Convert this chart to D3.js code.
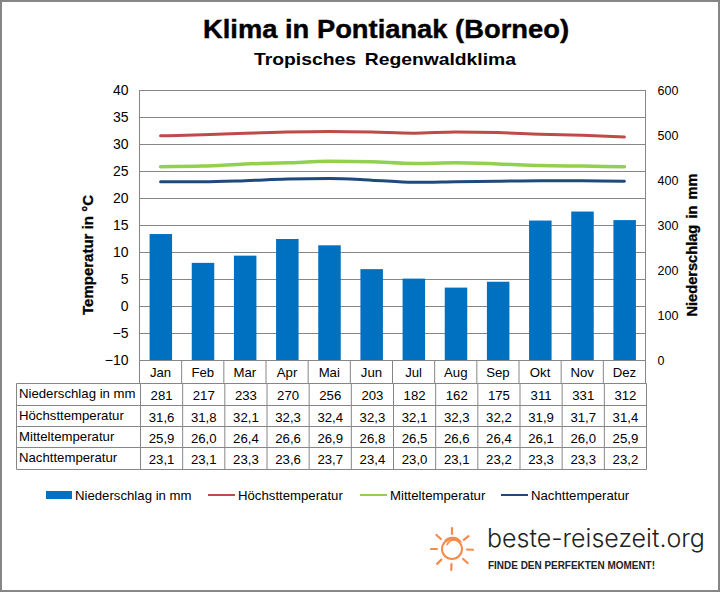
<!DOCTYPE html>
<html>
<head>
<meta charset="utf-8">
<script src="https://cdn.jsdelivr.net/npm/d3@7"></script>
<style>
  body { margin: 0; background: #fff; }
  text { font-family: "Liberation Sans", Arial, sans-serif; fill: #000; }
</style>
</head>
<body>
<svg id="chart" width="720" height="592"></svg>
<script>
const months = ["Jan", "Feb", "Mar", "Apr", "Mai", "Jun", "Jul", "Aug", "Sep", "Okt", "Nov", "Dez"];
const rain = [281, 217, 233, 270, 256, 203, 182, 162, 175, 311, 331, 312];
const high = [31.6, 31.8, 32.1, 32.3, 32.4, 32.3, 32.1, 32.3, 32.2, 31.9, 31.7, 31.4];
const mean = [25.9, 26.0, 26.4, 26.6, 26.9, 26.8, 26.5, 26.6, 26.4, 26.1, 26.0, 25.9];
const low = [23.1, 23.1, 23.3, 23.6, 23.7, 23.4, 23.0, 23.1, 23.2, 23.3, 23.3, 23.2];
const tempTicks = [-10, -5, 0, 5, 10, 15, 20, 25, 30, 35, 40];
const rainTicks = [0, 100, 200, 300, 400, 500, 600];

const gray = "#868686";
const svg = d3.select("#chart");

svg.append("rect").attr("x", 1).attr("y", 1).attr("width", 718).attr("height", 590)
    .attr("fill", "#fff").attr("stroke", gray).attr("stroke-width", 2);

// titles are stretched wide in the original
svg.append("text").attr("x", 386).attr("y", 38).attr("text-anchor", "middle")
    .attr("font-size", 25).attr("font-weight", "bold").attr("stroke", "#000").attr("stroke-width", 0.4)
    .attr("textLength", 366).attr("lengthAdjust", "spacingAndGlyphs")
    .text("Klima in Pontianak (Borneo)");
svg.append("text").attr("x", 385).attr("y", 65).attr("text-anchor", "middle")
    .attr("font-size", 17).attr("font-weight", "bold").attr("word-spacing", 3)
    .attr("textLength", 262).attr("lengthAdjust", "spacingAndGlyphs")
    .text("Tropisches Regenwaldklima");

const x = d3.scaleBand().domain(months).range([139.5, 645.5]);
const yTemp = d3.scaleLinear().domain([-10, 40]).range([360.5, 90.5]);
const yRain = d3.scaleLinear().domain([0, 600]).range([360.5, 90.5]);

// gridlines
svg.append("g").selectAll("line").data(tempTicks).join("line")
    .attr("x1", 139.5).attr("x2", 645.5)
    .attr("y1", d => yTemp(d)).attr("y2", d => yTemp(d))
    .attr("stroke", gray);

// bars
svg.append("g").selectAll("rect").data(rain).join("rect")
    .attr("x", (d, i) => x(months[i]) + x.bandwidth() / 2 - 11)
    .attr("y", d => yRain(d))
    .attr("width", 22.5)
    .attr("height", d => yRain(0) - yRain(d))
    .attr("fill", "#0070c0");

svg.append("rect").attr("x", 139.5).attr("y", 90.5).attr("width", 506).attr("height", 270)
    .attr("fill", "none").attr("stroke", gray);

// left and right axis labels, no tick marks in the original
const axisLeft = d3.axisLeft(yTemp).tickValues(tempTicks).tickSize(0).tickPadding(11);
const gLeft = svg.append("g").attr("transform", "translate(139.5,0)").call(axisLeft);
gLeft.select(".domain").remove();
gLeft.selectAll("text").attr("font-size", 14).attr("font-family", "Liberation Sans");

const axisRight = d3.axisRight(yRain).tickValues(rainTicks).tickSize(0).tickPadding(12);
const gRight = svg.append("g").attr("transform", "translate(645.5,0)").call(axisRight);
gRight.select(".domain").remove();
gRight.selectAll("text").attr("font-size", 12.5).attr("font-family", "Liberation Sans");

svg.append("text").attr("transform", "translate(93,255) rotate(-90)").attr("text-anchor", "middle")
    .attr("font-size", 14).attr("font-weight", "bold").attr("stroke", "#000").attr("stroke-width", 0.3)
    .attr("textLength", 120).attr("lengthAdjust", "spacingAndGlyphs").text("Temperatur in °C");
svg.append("text").attr("transform", "translate(697,245) rotate(-90)").attr("text-anchor", "middle")
    .attr("font-size", 14).attr("font-weight", "bold").attr("stroke", "#000").attr("stroke-width", 0.3)
    .attr("word-spacing", 2)
    .attr("textLength", 143).attr("lengthAdjust", "spacingAndGlyphs").text("Niederschlag in mm");

// temperature lines
const line = d3.line()
    .x((d, i) => x(months[i]) + x.bandwidth() / 2)
    .y(d => yTemp(d))
    .curve(d3.curveMonotoneX);

const series = [
    { name: "Höchsttemperatur", values: high, color: "#be4b48", width: 3 },
    { name: "Mitteltemperatur", values: mean, color: "#92d050", width: 3.5 },
    { name: "Nachttemperatur", values: low, color: "#1f497d", width: 3 }
];
svg.append("g").selectAll("path").data(series).join("path")
    .attr("d", d => line(d.values))
    .attr("fill", "none")
    .attr("stroke", d => d.color)
    .attr("stroke-width", d => d.width)
    .attr("stroke-linecap", "round");

// month row below the plot
const monthRow = svg.append("g");
monthRow.selectAll("line").data(d3.range(13)).join("line")
    .attr("x1", i => 139.5 + i * x.bandwidth()).attr("x2", i => 139.5 + i * x.bandwidth())
    .attr("y1", 360.5).attr("y2", 383.5)
    .attr("stroke", gray);
monthRow.selectAll("text").data(months).join("text")
    .attr("x", d => x(d) + x.bandwidth() / 2).attr("y", 377)
    .attr("text-anchor", "middle").attr("font-size", 13.2).text(d => d);

// data table
const rows = [
    { label: "Niederschlag in mm", values: rain.map(String) },
    { label: "Höchsttemperatur", values: high.map(d => d.toFixed(1).replace(".", ",")) },
    { label: "Mitteltemperatur", values: mean.map(d => d.toFixed(1).replace(".", ",")) },
    { label: "Nachttemperatur", values: low.map(d => d.toFixed(1).replace(".", ",")) }
];
const rowLines = [383.5, 405.5, 426.5, 447.5, 469.5];
const table = svg.append("g");
table.selectAll("line.h").data(rowLines).join("line").attr("class", "h")
    .attr("x1", 16.5).attr("x2", 646.5).attr("y1", d => d).attr("y2", d => d).attr("stroke", gray);
table.selectAll("line.v").data([-1].concat(d3.range(13))).join("line").attr("class", "v")
    .attr("x1", i => i < 0 ? 16.5 : 140.5 + i * x.bandwidth())
    .attr("x2", i => i < 0 ? 16.5 : 140.5 + i * x.bandwidth())
    .attr("y1", 383.5).attr("y2", 469.5).attr("stroke", gray);

rows.forEach((row, r) => {
    const top = rowLines[r];
    table.append("text").attr("x", 19).attr("y", top + 14.5).attr("font-size", 13.2).text(row.label);
    table.append("g").selectAll("text").data(row.values).join("text")
        .attr("x", (d, i) => x(months[i]) + x.bandwidth() / 2 + 1)
        .attr("y", top + 16)
        .attr("text-anchor", "middle").attr("font-size", 13.2).text(d => d);
});

// legend
const legend = svg.append("g");
legend.append("rect").attr("x", 46).attr("y", 491).attr("width", 26).attr("height", 8).attr("fill", "#0070c0");
legend.append("text").attr("x", 75).attr("y", 500).attr("font-size", 13.2).text("Niederschlag in mm");
const legendX = [208, 360, 501];
legend.selectAll("line").data(series).join("line")
    .attr("x1", (d, i) => legendX[i]).attr("x2", (d, i) => legendX[i] + 27)
    .attr("y1", 495).attr("y2", 495)
    .attr("stroke", d => d.color).attr("stroke-width", 2);
legend.selectAll("text.s").data(series).join("text").attr("class", "s")
    .attr("x", (d, i) => legendX[i] + 30).attr("y", 500)
    .attr("font-size", 13.2).text(d => d.name);

// logo
const logo = svg.append("g").attr("transform", "translate(452,549)");
logo.append("circle").attr("r", 10).attr("fill", "none").attr("stroke", "#f58a4b").attr("stroke-width", 2);
logo.append("path").attr("d", "M-7,-8 C-3,-13 5,-12 8,-8 C2,-10 -3,-9 -5,-4")
    .attr("fill", "none").attr("stroke", "#f58a4b").attr("stroke-width", 1.8);
const rayAngles = [-90, -38, 2, 42, 92, 135, 180, 222];
logo.selectAll("line").data(rayAngles).join("line")
    .attr("x1", d => 15 * Math.cos(d * Math.PI / 180)).attr("y1", d => 15 * Math.sin(d * Math.PI / 180))
    .attr("x2", d => 21 * Math.cos(d * Math.PI / 180)).attr("y2", d => 21 * Math.sin(d * Math.PI / 180))
    .attr("stroke", "#f58a4b").attr("stroke-width", 2.2).attr("stroke-linecap", "round");
svg.append("text").attr("x", 487).attr("y", 547).attr("font-size", 25)
    .style("font-family", "Inter").attr("font-weight", 300).style("fill", "#222")
    .text("beste-reisezeit.org");
svg.append("text").attr("x", 488).attr("y", 569).attr("font-size", 10).attr("font-weight", "bold")
    .style("fill", "#222").attr("textLength", 167).attr("lengthAdjust", "spacingAndGlyphs")
    .text("FINDE DEN PERFEKTEN MOMENT!");
</script>
</body>
</html>
